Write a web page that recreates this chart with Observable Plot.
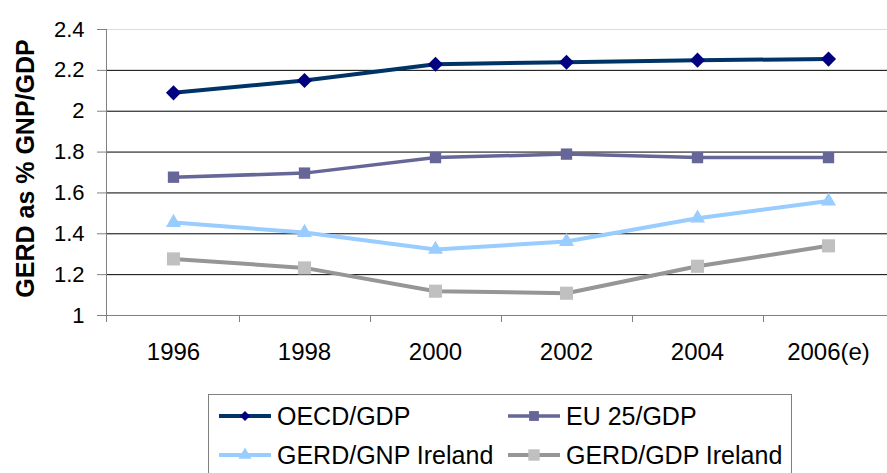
<!DOCTYPE html>
<html>
<head>
<meta charset="utf-8">
<script src="https://cdn.jsdelivr.net/npm/d3@7"></script>
<script src="https://cdn.jsdelivr.net/npm/@observablehq/plot@0.6"></script>
<style>
  html, body { margin: 0; padding: 0; background: #fff; overflow: hidden; width: 887px; height: 473px; }
  #wrap { position: relative; width: 887px; height: 473px; font-family: "Liberation Sans", Arial, sans-serif; }
  #legend { position: absolute; left: 208px; top: 394px; width: 584px; height: 100px; border: 1px solid #808080; box-sizing: border-box; background: #fff; }
  .item { position: absolute; display: flex; align-items: center; font-size: 25px; color: #000; white-space: nowrap; }
  .item svg { margin-right: 6px; }
</style>
</head>
<body>
<div id="wrap"><div id="chart"></div><div id="legend"></div></div>
<script>
const years = ["1996", "1998", "2000", "2002", "2004", "2006(e)"];
const oecdGdp = [2.09, 2.15, 2.23, 2.24, 2.25, 2.255];
const eu25Gdp = [1.677, 1.697, 1.773, 1.79, 1.773, 1.773];
const gerdGnpIreland = [1.455, 1.406, 1.323, 1.362, 1.476, 1.56];
const gerdGdpIreland = [1.277, 1.233, 1.119, 1.109, 1.241, 1.341];
const yTicks = [1, 1.2, 1.4, 1.6, 1.8, 2, 2.2, 2.4];
const seriesNames = ["OECD/GDP", "EU 25/GDP", "GERD/GNP Ireland", "GERD/GDP Ireland"];
const yTitle = "GERD as % GNP/GDP";

const seriesValues = [oecdGdp, eu25Gdp, gerdGnpIreland, gerdGdpIreland];
const styles = [
  {line: "#003366", mark: "#000080", symbol: "diamond2", r: 6.8, width: 4},
  {line: "#666699", mark: "#666699", symbol: "square", r: 6.4, width: 3.5},
  {line: "#99CCFF", mark: "#99CCFF", symbol: "triangle", r: 5.6, width: 4},
  {line: "#969696", mark: "#C0C0C0", symbol: "square", r: 7.4, width: 4}
];

const rows = [];
seriesNames.forEach((s, si) => years.forEach((yr, i) => rows.push({series: s, year: yr, value: seriesValues[si][i]})));

const fmt = d => String(+d.toFixed(1));

const lineMarks = [];
seriesNames.forEach((s, si) => {
  const st = styles[si];
  const data = rows.filter(r => r.series === s);
  lineMarks.push(Plot.line(data, {x: "year", y: "value", stroke: st.line, strokeWidth: st.width, curve: "linear"}));
});
seriesNames.forEach((s, si) => {
  const st = styles[si];
  const data = rows.filter(r => r.series === s);
  lineMarks.push(Plot.dot(data, {x: "year", y: "value", symbol: () => st.symbol, fill: st.mark, stroke: "none", r: st.r}));
});

// y-axis line and category boundary ticks
const frameLines = (index, scales, values, dims) => {
  const g = d3.create("svg:g").attr("stroke", "#808080").attr("stroke-width", 1).attr("shape-rendering", "crispEdges");
  const x0 = dims.marginLeft + 0.5;
  const yb = dims.height - dims.marginBottom;
  g.append("line").attr("x1", x0).attr("x2", x0).attr("y1", dims.marginTop).attr("y2", yb + 7);
  const half = (scales.x(years[1]) - scales.x(years[0])) / 2;
  years.forEach(yr => {
    const xx = Math.round(scales.x(yr) + half) + 0.5;
    g.append("line").attr("x1", xx).attr("x2", xx).attr("y1", yb).attr("y2", yb + 7);
  });
  return g.node();
};

const chart = Plot.plot({
  width: 887,
  height: 385,
  marginTop: 29,
  marginBottom: 70,
  marginLeft: 106,
  marginRight: 0,
  style: {fontFamily: "'Liberation Sans', Arial, sans-serif", background: "#fff", color: "#000", overflow: "visible"},
  x: {type: "point", domain: years, range: [171.7, 828.7], padding: 0},
  y: {domain: [1, 2.4]},
  marks: [
    Plot.ruleY(yTicks.filter(d => d > 1 && d < 2.4), {stroke: "#000", strokeWidth: 1}),
    Plot.ruleY([2.4], {stroke: "#dcdcdc", strokeWidth: 1}),
    Plot.ruleY([1], {stroke: "#808080", strokeWidth: 1}),
    frameLines,
    Plot.axisY({ticks: yTicks, tickSize: 9, tickPadding: 13, fontSize: 22, tickFormat: fmt, stroke: "#808080", fill: "#000", label: null}),
    Plot.axisX({tickSize: 0, tickPadding: 27, fontSize: 24, fill: "#000", label: null}),
    Plot.text([yTitle], {frameAnchor: "left", dx: -81, dy: -4, rotate: -90, fontSize: 25, fontWeight: "bold", fill: "#000", textAnchor: "middle", lineAnchor: "middle"}),
    ...lineMarks
  ]
});
document.getElementById("chart").appendChild(chart);

// legend
const legend = document.getElementById("legend");
const pos = [
  {left: 10, top: 21}, {left: 299, top: 21},
  {left: 10, top: 60}, {left: 299, top: 60}
];
seriesNames.forEach((s, si) => {
  const st = styles[si];
  const item = document.createElement("div");
  item.className = "item";
  item.style.left = pos[si].left + "px";
  item.style.top = (pos[si].top - 15) + "px";
  item.style.height = "30px";
  const svg = d3.create("svg").attr("width", 52).attr("height", 20);
  svg.append("line").attr("x1", 0).attr("x2", 52).attr("y1", 10).attr("y2", 10).attr("stroke", st.line).attr("stroke-width", st.width);
  const symType = st.symbol === "diamond2" ? d3.symbolDiamond2 : st.symbol === "square" ? d3.symbolSquare : d3.symbolTriangle;
  const size = Math.PI * st.r * st.r * (si === 0 ? 0.45 : 0.75);
  svg.append("path").attr("d", d3.symbol(symType, size)()).attr("transform", "translate(26,10)").attr("fill", st.mark);
  item.appendChild(svg.node());
  const t = document.createElement("span");
  t.textContent = s;
  item.appendChild(t);
  legend.appendChild(item);
});
</script>
</body>
</html>
